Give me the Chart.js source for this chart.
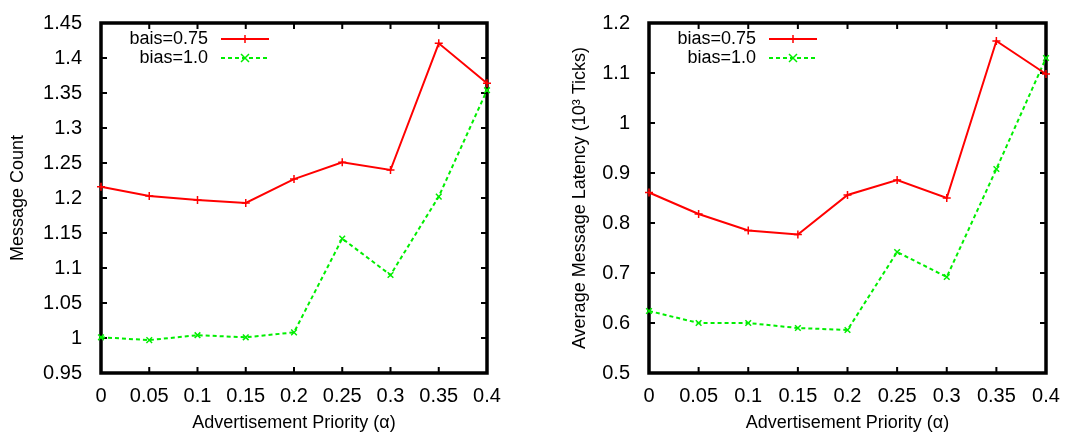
<!DOCTYPE html>
<html>
<head>
<meta charset="utf-8">
<script src="https://cdn.jsdelivr.net/npm/chart.js@4.4.0/dist/chart.umd.min.js"></script>
<style>
body{margin:0;background:#fff;width:1089px;height:435px;overflow:hidden;position:relative}
canvas{position:absolute;top:0}
#c1{left:0}
#c2{left:545px}
</style>
</head>
<body>
<canvas id="c1" width="545" height="435"></canvas>
<canvas id="c2" width="544" height="435"></canvas>
<script>
// x axis (advertisement priority)
const alphas = ['0', '0.05', '0.1', '0.15', '0.2', '0.25', '0.3', '0.35', '0.4'];

// left: message count
const countBias075 = [1.216, 1.203, 1.197, 1.193, 1.227, 1.251, 1.240, 1.421, 1.364];
const countBias10 = [1.001, 0.997, 1.004, 1.001, 1.008, 1.142, 1.090, 1.202, 1.354];
const countTicks = [0.95, 1, 1.05, 1.1, 1.15, 1.2, 1.25, 1.3, 1.35, 1.4, 1.45];

// right: average latency
const latencyBias075 = [0.861, 0.818, 0.785, 0.777, 0.856, 0.886, 0.850, 1.164, 1.098];
const latencyBias10 = [0.624, 0.600, 0.600, 0.590, 0.586, 0.742, 0.692, 0.908, 1.130];
const latencyTicks = [0.5, 0.6, 0.7, 0.8, 0.9, 1, 1.1, 1.2];

Chart.defaults.font.family = "'Liberation Sans', Arial, sans-serif";
Chart.defaults.color = '#000';

function drawMarker(ctx, style, x, y, r) {
  ctx.beginPath();
  if (style === 'cross') {
    ctx.moveTo(x - r, y); ctx.lineTo(x + r, y);
    ctx.moveTo(x, y - r); ctx.lineTo(x, y + r);
  } else {
    ctx.moveTo(x - r, y - r); ctx.lineTo(x + r, y + r);
    ctx.moveTo(x - r, y + r); ctx.lineTo(x + r, y - r);
  }
  ctx.stroke();
}

// gnuplot style frame with inward ticks on all four sides
const frame = {
  id: 'frame',
  beforeDatasetsDraw(chart) {
    const ctx = chart.ctx;
    const a = chart.chartArea;
    const xs = chart.scales.x, ys = chart.scales.y;
    ctx.save();
    ctx.strokeStyle = '#000';
    ctx.lineWidth = 2;
    ys.ticks.forEach(t => {
      const y = ys.getPixelForValue(t.value);
      ctx.beginPath();
      ctx.moveTo(a.left, y); ctx.lineTo(a.left + 6, y);
      ctx.moveTo(a.right, y); ctx.lineTo(a.right - 6, y);
      ctx.stroke();
    });
    xs.ticks.forEach((t, i) => {
      const x = xs.getPixelForTick(i);
      ctx.beginPath();
      ctx.moveTo(x, a.top); ctx.lineTo(x, a.top + 6);
      ctx.moveTo(x, a.bottom); ctx.lineTo(x, a.bottom - 6);
      ctx.stroke();
    });
    ctx.lineWidth = 3.5;
    ctx.strokeRect(a.left, a.top, a.right - a.left, a.bottom - a.top);
    ctx.restore();
  },
  afterDatasetsDraw(chart) {
    const ctx = chart.ctx;
    const a = chart.chartArea;
    ctx.save();
    ctx.font = "18px 'Liberation Sans', Arial, sans-serif";
    ctx.textAlign = 'right';
    ctx.textBaseline = 'middle';
    chart.data.datasets.forEach((ds, i) => {
      const y = a.top + 16 + i * 19;
      ctx.fillStyle = '#000';
      ctx.fillText(ds.label, a.left + 107, y);
      ctx.strokeStyle = ds.borderColor;
      ctx.lineWidth = ds.borderWidth;
      ctx.setLineDash(ds.borderDash || []);
      ctx.beginPath();
      ctx.moveTo(a.left + 120, y); ctx.lineTo(a.left + 168, y);
      ctx.stroke();
      ctx.setLineDash([]);
      ctx.lineWidth = 1.5;
      drawMarker(ctx, ds.pointStyle, a.left + 144, y, 4);
    });
    ctx.restore();
  }
};

function makeChart(id, opts) {
  new Chart(document.getElementById(id), {
    type: 'line',
    data: {
      labels: alphas,
      datasets: [
        {
          label: opts.labels[0],
          data: opts.red,
          borderColor: '#ff0000',
          borderWidth: 2,
          pointStyle: 'cross',
          pointRadius: 4,
          pointBorderWidth: 1.5,
          pointBorderColor: '#ff0000',
          fill: false,
          tension: 0,
          clip: false
        },
        {
          label: opts.labels[1],
          data: opts.green,
          borderColor: '#00ee00',
          borderWidth: 2,
          borderDash: [4, 3],
          pointStyle: 'crossRot',
          pointRadius: 4,
          pointBorderWidth: 1.5,
          pointBorderColor: '#00ee00',
          fill: false,
          tension: 0,
          clip: false
        }
      ]
    },
    options: {
      responsive: false,
      animation: false,
      events: [],
      layout: { padding: { top: 13, right: opts.padRight, left: 0, bottom: 0 } },
      plugins: { legend: { display: false }, tooltip: { enabled: false } },
      scales: {
        x: {
          grid: { display: false },
          border: { display: false },
          ticks: { font: { size: 20 }, padding: 3, maxRotation: 0, autoSkip: false },
          title: { display: true, text: 'Advertisement Priority (α)', font: { size: 18 }, padding: { top: 0, bottom: 1 } },
          afterFit(s) { s.height = 62; }
        },
        y: {
          min: opts.ticks[0],
          max: opts.ticks[opts.ticks.length - 1],
          grid: { display: false },
          border: { display: false },
          afterBuildTicks(s) { s.ticks = opts.ticks.map(v => ({ value: v })); },
          ticks: {
            font: { size: 20 },
            padding: 11,
            callback: v => String(+v.toFixed(2))
          },
          title: { display: true, text: opts.yTitle, font: { size: 18 }, padding: { top: opts.titlePad, bottom: 0 } },
          afterFit(s) { s.width = opts.plotLeft; }
        }
      }
    },
    plugins: [frame]
  });
}

makeChart('c1', {
  labels: ['bais=0.75', 'bias=1.0'],
  red: countBias075,
  green: countBias10,
  ticks: countTicks,
  yTitle: 'Message Count',
  plotLeft: 101,
  padRight: 58,
  titlePad: 7
});

makeChart('c2', {
  labels: ['bias=0.75', 'bias=1.0'],
  red: latencyBias075,
  green: latencyBias10,
  ticks: latencyTicks,
  yTitle: 'Average Message Latency (10³ Ticks)',
  plotLeft: 104,
  padRight: 43,
  titlePad: 24
});
</script>
</body>
</html>
